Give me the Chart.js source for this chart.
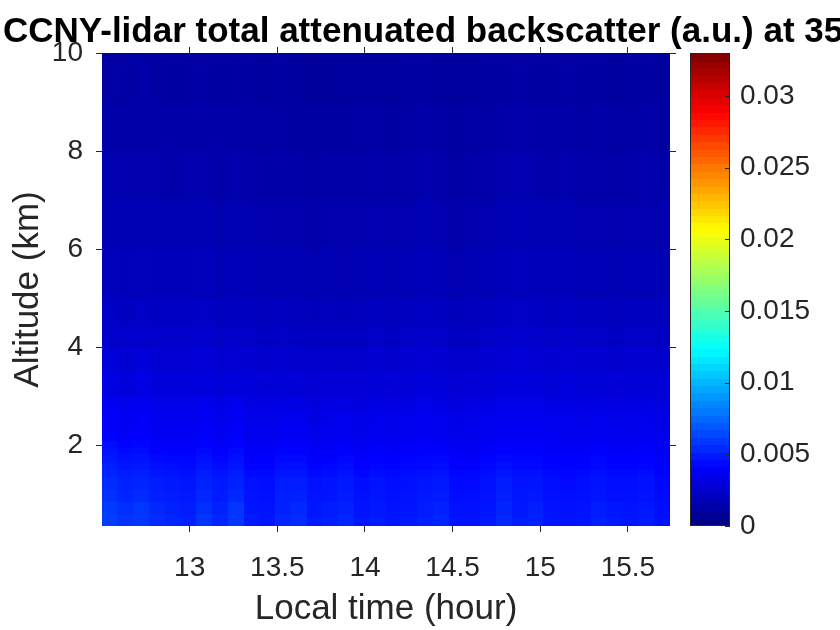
<!DOCTYPE html>
<html>
<head>
<meta charset="utf-8">
<script src="https://cdn.jsdelivr.net/npm/chart.js@4.4.1/dist/chart.umd.min.js"></script>
<style>
  html, body { margin: 0; padding: 0; background: #fff; }
  #wrap { width: 840px; height: 630px; overflow: hidden; }
</style>
</head>
<body>
<div id="wrap"><canvas id="lidarChart" width="840" height="630"></canvas></div>
<script>
// column edges in local time (hour)
const timeEdges = [12.50, 12.59, 12.68, 12.77, 12.86, 12.95, 13.04, 13.13, 13.22, 13.31,
  13.40, 13.49, 13.58, 13.67, 13.76, 13.85, 13.94, 14.03, 14.12, 14.21, 14.30, 14.39,
  14.48, 14.57, 14.66, 14.75, 14.84, 14.93, 15.02, 15.11, 15.20, 15.29, 15.38, 15.47,
  15.56, 15.65, 15.74];

// row edges in altitude (km)
const altEdges = [0.35, 0.6, 0.85, 1.1, 1.35, 1.5, 1.65, 1.8, 1.95, 2.1, 2.25, 2.4, 2.7,
  3.0, 3.5, 4.0, 4.5, 5.0, 6.0, 7.0, 8.0, 9.0, 10.0];

// backscatter (a.u. x 1e-3), one row per altitude bin, bottom row first
const backscatter = [
  [6.1,5.7,5.9,5.5,5.3,5.1,5.8,5.3,5.9,4.9,4.8,5.3,5.5,4.9,5.1,5.3,4.8,5.0,4.8,4.9,5.1,5.3,4.7,4.7,4.9,5.4,5.0,5.2,4.8,4.7,4.8,5.1,4.9,4.8,5.0,4.6],
  [6.0,5.6,5.8,5.4,5.2,5.0,5.6,5.2,5.8,4.8,4.7,5.2,5.4,4.8,5.0,5.2,4.7,4.9,4.7,4.8,5.0,5.2,4.6,4.6,4.8,5.3,4.9,5.1,4.7,4.6,4.7,5.0,4.8,4.7,4.9,4.5],
  [5.7,5.3,5.5,5.1,5.0,4.9,5.4,5.0,5.4,4.7,4.6,5.1,5.2,4.7,4.8,5.0,4.6,4.8,4.6,4.7,4.9,5.0,4.5,4.5,4.7,5.1,4.8,4.9,4.6,4.5,4.6,4.8,4.6,4.6,4.7,4.4],
  [5.5,5.2,5.3,5.0,4.9,4.8,5.2,4.9,5.2,4.6,4.5,5.0,5.0,4.6,4.7,4.9,4.5,4.7,4.5,4.6,4.8,4.9,4.4,4.4,4.6,5.0,4.7,4.8,4.5,4.4,4.5,4.7,4.5,4.5,4.6,4.3],
  [5.3,5.0,5.1,4.8,4.7,4.6,5.0,4.7,5.0,4.4,4.4,4.8,4.8,4.4,4.5,4.7,4.3,4.5,4.4,4.5,4.6,4.7,4.3,4.3,4.5,4.8,4.6,4.6,4.4,4.3,4.4,4.6,4.4,4.4,4.5,4.2],
  [5.1,4.8,4.9,4.6,4.5,4.4,4.8,4.5,4.8,4.2,4.2,4.6,4.6,4.2,4.3,4.5,4.1,4.3,4.2,4.3,4.4,4.5,4.1,4.1,4.3,4.6,4.4,4.4,4.2,4.2,4.2,4.4,4.2,4.2,4.3,4.1],
  [4.9,4.6,4.7,4.4,4.3,4.3,4.6,4.3,4.6,4.1,4.1,4.4,4.4,4.0,4.1,4.3,4.0,4.2,4.1,4.2,4.3,4.3,4.0,4.0,4.2,4.4,4.3,4.3,4.1,4.1,4.1,4.3,4.1,4.1,4.2,4.0],
  [4.7,4.4,4.5,4.2,4.1,4.1,4.4,4.1,4.4,3.9,3.9,4.2,4.2,3.8,3.9,4.1,3.8,4.0,3.9,4.0,4.1,4.1,3.8,3.8,4.0,4.2,4.1,4.1,3.9,3.9,3.9,4.1,3.9,3.9,4.0,3.8],
  [4.5,4.2,4.3,4.0,4.0,4.0,4.2,4.0,4.2,3.8,3.8,4.0,4.0,3.7,3.8,3.9,3.7,3.9,3.8,3.9,4.0,3.9,3.7,3.7,3.9,4.0,4.0,4.0,3.8,3.8,3.8,3.9,3.8,3.8,3.9,3.7],
  [4.2,3.9,4.1,3.8,3.8,3.8,4.0,3.8,4.0,3.6,3.6,3.8,3.8,3.5,3.6,3.7,3.5,3.7,3.6,3.7,3.8,3.7,3.5,3.5,3.7,3.8,3.8,3.8,3.7,3.6,3.6,3.7,3.6,3.6,3.7,3.5],
  [4.1,3.8,4.0,3.7,3.7,3.7,3.9,3.7,3.9,3.5,3.5,3.7,3.7,3.4,3.5,3.6,3.4,3.6,3.5,3.6,3.7,3.6,3.4,3.5,3.6,3.7,3.7,3.7,3.6,3.6,3.5,3.6,3.5,3.5,3.6,3.4],
  [4.0,3.7,3.9,3.6,3.6,3.6,3.8,3.6,3.8,3.4,3.4,3.6,3.6,3.3,3.4,3.5,3.3,3.5,3.4,3.5,3.6,3.5,3.3,3.4,3.5,3.6,3.6,3.6,3.5,3.5,3.4,3.5,3.4,3.4,3.5,3.3],
  [3.7,3.5,3.6,3.4,3.4,3.4,3.6,3.3,3.5,3.2,3.2,3.3,3.3,3.1,3.2,3.2,3.1,3.3,3.2,3.3,3.4,3.3,3.1,3.2,3.3,3.4,3.4,3.4,3.3,3.3,3.2,3.3,3.2,3.2,3.3,3.1],
  [3.2,3.0,3.2,3.0,3.0,3.0,3.1,2.9,3.0,2.9,2.8,2.9,2.8,2.7,2.8,2.8,2.8,2.9,2.8,2.9,3.0,2.9,2.7,2.8,2.9,3.0,3.1,3.0,2.9,3.0,2.9,2.9,2.8,2.9,2.9,2.8],
  [2.9,2.7,2.9,2.7,2.7,2.7,2.8,2.6,2.7,2.6,2.5,2.6,2.5,2.4,2.5,2.4,2.5,2.6,2.5,2.6,2.7,2.6,2.4,2.5,2.6,2.7,2.8,2.7,2.6,2.7,2.6,2.6,2.5,2.6,2.6,2.5],
  [2.5,2.4,2.5,2.4,2.4,2.4,2.5,2.3,2.4,2.3,2.2,2.3,2.2,2.1,2.2,2.1,2.2,2.3,2.2,2.3,2.4,2.3,2.1,2.2,2.3,2.4,2.5,2.4,2.3,2.4,2.3,2.3,2.2,2.3,2.3,2.2],
  [2.3,2.2,2.3,2.2,2.2,2.2,2.3,2.1,2.2,2.1,2.0,2.1,2.0,1.9,2.0,1.9,2.0,2.1,2.0,2.1,2.2,2.1,1.9,2.0,2.1,2.2,2.3,2.2,2.1,2.2,2.1,2.1,2.0,2.1,2.1,2.0],
  [2.0,1.9,2.0,1.9,1.9,1.9,2.0,1.8,1.9,1.8,1.7,1.8,1.7,1.6,1.7,1.6,1.7,1.8,1.7,1.8,1.9,1.8,1.6,1.7,1.8,1.9,2.0,1.9,1.9,1.9,1.8,1.8,1.7,1.8,1.8,1.7],
  [1.8,1.7,1.8,1.7,1.7,1.7,1.8,1.6,1.7,1.6,1.5,1.6,1.5,1.4,1.5,1.5,1.5,1.6,1.5,1.6,1.7,1.6,1.4,1.5,1.6,1.7,1.8,1.7,1.7,1.7,1.6,1.6,1.5,1.6,1.6,1.5],
  [1.6,1.5,1.6,1.5,1.4,1.5,1.6,1.4,1.5,1.4,1.3,1.4,1.3,1.2,1.3,1.3,1.3,1.4,1.3,1.4,1.5,1.4,1.2,1.3,1.4,1.5,1.6,1.5,1.4,1.5,1.4,1.4,1.3,1.4,1.5,1.3],
  [1.4,1.3,1.4,1.3,1.3,1.3,1.4,1.3,1.3,1.2,1.2,1.2,1.1,1.1,1.1,1.1,1.2,1.2,1.1,1.2,1.3,1.2,1.1,1.2,1.2,1.3,1.4,1.3,1.3,1.3,1.2,1.3,1.2,1.2,1.3,1.1],
  [1.2,1.2,1.3,1.2,1.1,1.2,1.2,1.1,1.2,1.1,1.0,1.1,1.0,0.9,1.0,1.0,1.0,1.0,1.0,1.1,1.1,1.0,1.0,1.0,1.1,1.1,1.2,1.1,1.1,1.2,1.1,1.1,1.0,1.1,1.1,1.0]
];
const valueUnit = 1e-3;

const timeTicks = [13, 13.5, 14, 14.5, 15, 15.5];
const altTicks = [2, 4, 6, 8, 10];
const cbTicks = [0, 0.005, 0.01, 0.015, 0.02, 0.025, 0.03];
const cbMax = 0.033;

const titleText = "CCNY-lidar total attenuated backscatter (a.u.) at 355 nm";
const fontFamily = "'Liberation Sans', Arial, Helvetica, sans-serif";
const axisColor = "#262626";

// MATLAB jet colormap
function jet(t) {
  t = Math.max(0, Math.min(1, t));
  const c = v => Math.round(255 * Math.max(0, Math.min(1, v)));
  const r = c(1.5 - Math.abs(4 * t - 3));
  const g = c(1.5 - Math.abs(4 * t - 2));
  const b = c(1.5 - Math.abs(4 * t - 1));
  return `rgb(${r},${g},${b})`;
}

// build cells
const cells = [];
backscatter.forEach((row, r) => {
  row.forEach((val, i) => {
    cells.push({
      x: (timeEdges[i] + timeEdges[i + 1]) / 2,
      y: (altEdges[r] + altEdges[r + 1]) / 2,
      x0: timeEdges[i], x1: timeEdges[i + 1],
      y0: altEdges[r], y1: altEdges[r + 1],
      v: val * valueUnit
    });
  });
});

const heatmapPlugin = {
  id: "heatmap",
  beforeDatasetsDraw(chart) {
    const { ctx, chartArea, scales: { x, y } } = chart;
    ctx.save();
    ctx.beginPath();
    ctx.rect(chartArea.left, chartArea.top, chartArea.right - chartArea.left, chartArea.bottom - chartArea.top);
    ctx.clip();
    chart.data.datasets[0].data.forEach(c => {
      const px0 = Math.floor(x.getPixelForValue(c.x0));
      const px1 = Math.ceil(x.getPixelForValue(c.x1));
      const pyTop = Math.floor(y.getPixelForValue(c.y1));
      const pyBot = Math.ceil(y.getPixelForValue(c.y0));
      ctx.fillStyle = jet(c.v / cbMax);
      ctx.fillRect(px0, pyTop, px1 - px0, pyBot - pyTop);
    });
    ctx.restore();
  }
};

const colorbarPlugin = {
  id: "colorbar",
  afterDraw(chart) {
    const { ctx } = chart;
    const cb = chart.scales.cb;
    const left = cb.left + 14;
    const width = 40;
    const steps = 64;
    ctx.save();
    for (let k = 0; k < steps; k++) {
      const yA = cb.getPixelForValue((k + 1) / steps * cbMax);
      const yB = cb.getPixelForValue(k / steps * cbMax);
      ctx.fillStyle = jet((k + 0.5) / steps);
      ctx.fillRect(left, Math.floor(yA), width, Math.ceil(yB) - Math.floor(yA));
    }
    ctx.strokeStyle = axisColor;
    ctx.lineWidth = 1;
    ctx.strokeRect(left + 0.5, cb.top + 0.5, width - 1, cb.bottom - cb.top - 1);
    cbTicks.forEach(t => {
      const py = Math.round(cb.getPixelForValue(t)) + 0.5;
      ctx.beginPath();
      ctx.moveTo(left + width - 5, py);
      ctx.lineTo(left + width, py);
      ctx.stroke();
    });
    ctx.restore();
  }
};

const titlePlugin = {
  id: "plotTitle",
  afterDraw(chart) {
    const { ctx } = chart;
    ctx.save();
    ctx.font = `bold 35px ${fontFamily}`;
    ctx.fillStyle = "#000";
    ctx.textBaseline = "alphabetic";
    ctx.textAlign = "left";
    ctx.fillText(titleText, 3, 42);
    ctx.restore();
  }
};

// fix an axis box size and drop the label overhang padding
function fixBox(w, h) {
  return s => {
    if (w !== null) s.width = w;
    if (h !== null) s.height = h;
    s.paddingTop = 0; s.paddingBottom = 0; s.paddingLeft = 0; s.paddingRight = 0;
  };
}

const tickFont = { family: fontFamily, size: 28 };
const labelFont = { family: fontFamily, size: 35 };
const tickGrid = { drawOnChartArea: false, tickLength: 6, color: axisColor, lineWidth: 1 };

const ctx = document.getElementById("lidarChart").getContext("2d");
const lidarChart = new Chart(ctx, {
  type: "scatter",
  data: {
    datasets: [{ data: cells, pointRadius: 0, pointHoverRadius: 0 }]
  },
  options: {
    responsive: false,
    animation: false,
    events: [],
    layout: { padding: { left: 0, top: 47, right: 0, bottom: 0 } },
    plugins: { legend: { display: false }, tooltip: { enabled: false } },
    scales: {
      x: {
        type: "linear", position: "bottom", min: 12.5, max: 15.74,
        afterBuildTicks: s => { s.ticks = timeTicks.map(v => ({ value: v })); },
        afterFit: fixBox(null, 104),
        ticks: { font: tickFont, color: axisColor, padding: 19, maxRotation: 0, autoSkip: false, callback: v => String(v) },
        grid: tickGrid,
        border: { display: false },
        title: { display: true, text: "Local time (hour)", font: labelFont, color: axisColor, padding: { top: 0, bottom: 0 } }
      },
      x2: {
        type: "linear", position: "top", min: 12.5, max: 15.74,
        afterBuildTicks: s => { s.ticks = timeTicks.map(v => ({ value: v })); },
        afterFit: fixBox(null, 6),
        ticks: { display: false },
        grid: tickGrid,
        border: { display: false }
      },
      y: {
        type: "linear", position: "left", min: 0.35, max: 10,
        afterBuildTicks: s => { s.ticks = altTicks.map(v => ({ value: v })); },
        afterFit: fixBox(102, null),
        ticks: { font: tickFont, color: axisColor, padding: 13, autoSkip: false, callback: v => String(v) },
        grid: tickGrid,
        border: { display: false },
        title: { display: true, text: "Altitude (km)", font: labelFont, color: axisColor, padding: { top: 7, bottom: 0 } }
      },
      y2: {
        type: "linear", position: "right", min: 0.35, max: 10, weight: 0,
        afterBuildTicks: s => { s.ticks = altTicks.map(v => ({ value: v })); },
        afterFit: fixBox(6, null),
        ticks: { display: false },
        grid: tickGrid,
        border: { display: false }
      },
      cb: {
        type: "linear", position: "right", min: 0, max: cbMax, weight: 1,
        afterBuildTicks: s => { s.ticks = cbTicks.map(v => ({ value: v })); },
        afterFit: fixBox(164, null),
        ticks: { font: tickFont, color: axisColor, padding: 64, autoSkip: false, callback: v => String(v) },
        grid: { display: false, drawTicks: false },
        border: { display: false }
      }
    }
  },
  plugins: [heatmapPlugin, colorbarPlugin, titlePlugin]
});
</script>
</body>
</html>
